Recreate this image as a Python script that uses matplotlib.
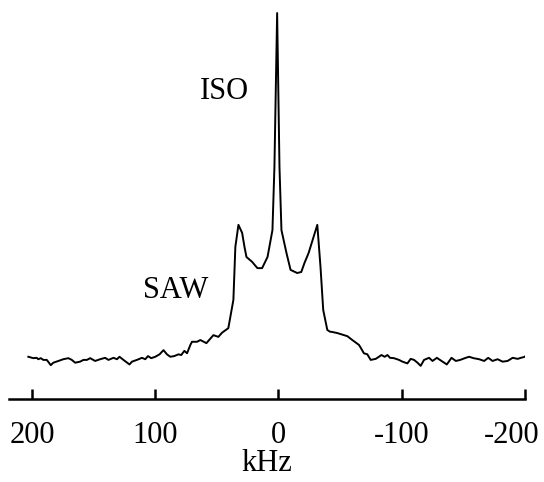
import matplotlib
matplotlib.use("Agg")
import matplotlib.pyplot as plt
from matplotlib.transforms import ScaledTranslation

plt.rcParams['font.family'] = ['Liberation Serif', 'DejaVu Serif']

# frequency offset (kHz) and intensity (a.u., isotropic peak = 100)
khz = [203.0, 198.9, 196.2, 194.9, 192.9, 190.8, 188.0, 184.8, 182.7, 178.6,
       174.6, 170.5, 167.7, 165.0, 161.0, 158.3, 155.5, 152.8, 148.8, 144.7,
       140.7, 138.0, 133.9, 131.1, 129.0, 125.8, 120.9, 118.9, 114.9, 110.8,
       108.1, 105.9, 103.3, 100.0, 96.5, 93.3, 90.5, 87.8, 84.6, 81.1,
       78.9, 76.4, 74.2, 71.5, 70.2, 66.1, 63.4, 58.5, 52.8, 48.8,
       45.8, 40.7, 36.6, 35.0, 32.5, 29.5, 27.6, 26.0, 21.4, 17.1,
       13.3, 8.9, 4.9, 3.3, 1.1, -0.8, -2.4, -6.5, -9.8, -15.2,
       -18.5, -21.1, -24.4, -31.5, -34.1, -36.3, -39.6, -41.7, -43.7, -47.7,
       -55.9, -59.9, -65.3, -66.7, -69.3, -72.1, -74.8, -78.9, -81.5, -83.5,
       -86.2, -88.4, -90.5, -93.7, -97.8, -100.6, -104.6, -107.3, -110.0, -112.8,
       -115.4, -118.1, -122.2, -125.0, -128.5, -132.3, -136.6, -140.4, -143.9, -147.4,
       -152.0, -154.7, -158.3, -162.8, -166.9, -170.2, -173.7, -177.8, -181.9, -185.9,
       -190.0, -194.1, -196.7, -200.0, -201.4]
intensity = [1.5, 1.1, 1.2, 0.8, 1.1, 0.6, 0.6, -0.9, -0.2, 0.3,
             0.8, 1.1, 0.6, -0.2, 0.1, 0.6, 0.6, 1.1, 0.3, 0.8,
             1.2, 0.6, 1.2, 0.8, 1.5, 0.6, -0.7, 0.1, 0.6, 1.2,
             0.8, 1.7, 1.1, 1.5, 2.2, 3.4, 2.2, 1.5, 1.7, 2.2,
             2.0, 3.2, 2.5, 4.9, 5.8, 5.8, 6.3, 5.4, 7.7, 7.2,
             8.4, 9.7, 17.8, 33.0, 39.3, 37.0, 33.0, 30.1, 28.7, 26.9,
             26.9, 30.1, 37.8, 55.9, 100.0, 55.9, 37.8, 31.2, 26.4, 25.5,
             25.8, 28.4, 31.2, 39.3, 27.2, 14.9, 9.2, 8.7, 8.6, 8.3,
             7.4, 6.3, 4.9, 4.1, 2.5, 2.2, 0.6, 0.9, 1.5, 2.0,
             1.5, 2.0, 1.2, 1.1, 0.6, 0.1, -0.4, 0.9, 0.6, -0.2,
             -1.1, 0.6, 1.2, 0.3, 1.2, 0.3, -0.7, 1.2, 0.3, 0.6,
             1.2, 1.5, 1.1, 0.8, 0.3, 1.2, 0.3, 0.8, 0.1, 0.3,
             1.2, 0.9, 1.2, 1.5, 2.2]

tick_pos = [200, 100, 0, -100, -200]
tick_labels = ["200", "100", "0", "-100", "-200"]

fig = plt.figure(figsize=(5.44, 4.82), dpi=100)
ax = fig.add_axes([0.0165, 0.1722, 0.9485, 0.8174])

ax.plot(khz, intensity, color="black", lw=1.4)

ax.set_xlim(218.7, -200)
ax.set_ylim(-10.6, 102.3)

for s in ["top", "left", "right"]:
    ax.spines[s].set_visible(False)
ax.spines["bottom"].set_linewidth(1.8)
ax.set_yticks([])
ax.set_xticks(tick_pos)
ax.set_xticklabels(tick_labels)
ax.tick_params(axis="x", direction="in", length=7.5, width=1.8,
               labelsize=22, pad=16)
ax.set_xlabel("kHz", fontsize=22, labelpad=-1)

# last label sits a bit left of its tick so it stays inside the figure
last = ax.get_xticklabels()[-1]
last.set_transform(last.get_transform() + ScaledTranslation(-13 / 100, 0, fig.dpi_scale_trans))

ax.text(43.5, 75.4, "ISO", fontsize=22, ha="center", va="baseline")
ax.text(83.1, 18.3, "SAW", fontsize=22, ha="center", va="baseline")

fig.savefig("out.png", dpi=100)
